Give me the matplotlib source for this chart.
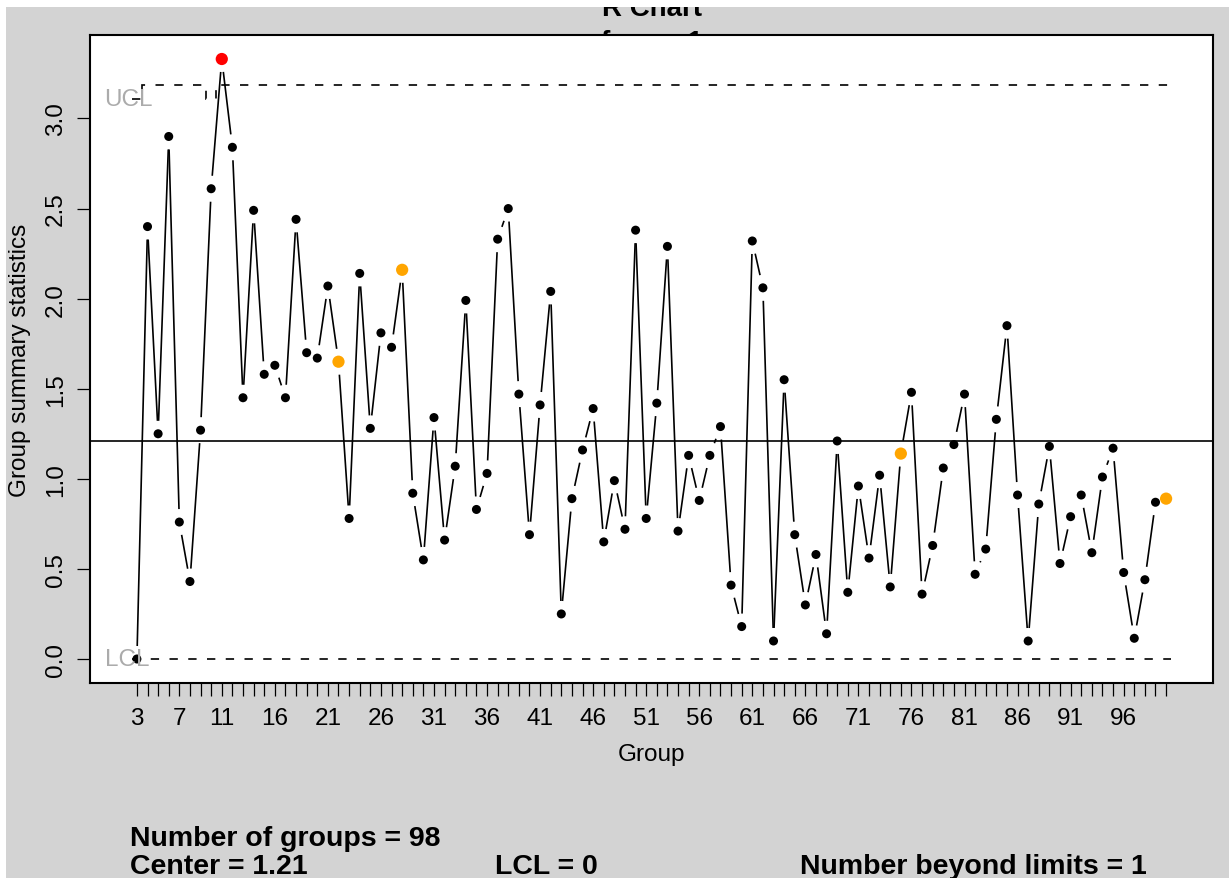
import matplotlib
matplotlib.use('Agg')
import matplotlib.pyplot as plt
import numpy as np
from matplotlib.collections import LineCollection
from matplotlib.patches import Rectangle

plt.rcParams['font.family'] = ['Liberation Sans', 'DejaVu Sans']
plt.rcParams['lines.scale_dashes'] = False

# ---------------- data ----------------
groups = list(range(3, 101))
r_values = [
    0.00, 2.40, 1.25, 2.90, 0.76, 0.43, 1.27, 2.61, 3.33, 2.84,   # 3-12
    1.45, 2.49, 1.58, 1.63, 1.45, 2.44, 1.70, 1.67, 2.07, 1.65,   # 13-22
    0.78, 2.14, 1.28, 1.81, 1.73, 2.16, 0.92, 0.55, 1.34, 0.66,   # 23-32
    1.07, 1.99, 0.83, 1.03, 2.33, 2.50, 1.47, 0.69, 1.41, 2.04,   # 33-42
    0.25, 0.89, 1.16, 1.39, 0.65, 0.99, 0.72, 2.38, 0.78, 1.42,   # 43-52
    2.29, 0.71, 1.13, 0.88, 1.13, 1.29, 0.41, 0.18, 2.32, 2.06,   # 53-62
    0.10, 1.55, 0.69, 0.30, 0.58, 0.14, 1.21, 0.37, 0.96, 0.56,   # 63-72
    1.02, 0.40, 1.14, 1.48, 0.36, 0.63, 1.06, 1.19, 1.47, 0.47,   # 73-82
    0.61, 1.33, 1.85, 0.91, 0.10, 0.86, 1.18, 0.53, 0.79, 0.91,   # 83-92
    0.59, 1.01, 1.17, 0.48, 0.115, 0.44, 0.87, 0.89,              # 93-100
]
assert len(r_values) == len(groups)
center_value = 1.21
ucl_values = [3.11] + [3.185] * 6 + [3.11] + [3.185] * 90
lcl_values = [0.0] * 98
beyond_groups = [11]
run_groups = [22, 28, 75, 100]
shown_xlabels = [3, 7, 11, 16, 21, 26, 31, 36, 41, 46, 51, 56, 61, 66, 71,
                 76, 81, 86, 91, 96]
y_ticks = [0.0, 0.5, 1.0, 1.5, 2.0, 2.5, 3.0]

title_lines = ["R Chart", "for res1"]
stats_texts = ["Number of groups = 98", "Center = 1.21", "LCL = 0",
               "Number beyond limits = 1"]

# ---------------- figure ----------------
W, H = 1229, 879
fig = plt.figure(figsize=(W / 100, H / 100), dpi=100, facecolor='#D3D3D3')
ax = fig.add_axes([90 / W, (H - 684) / H, (1213 - 90) / W, (684 - 36) / H])
ax.set_facecolor('white')

x = np.array(groups, dtype=float)
y = np.array(r_values, dtype=float)
x0, x1 = x[0] - 0.5, x[-1] + 0.5
xpad = 0.04 * (x1 - x0)
ax.set_xlim(x0 - xpad, x1 + xpad)
lo = min(0.0, y.min())
hi = max(y.max(), max(ucl_values))
ypad = 0.04 * (hi - lo)
ax.set_ylim(lo - ypad, hi + ypad)

lw = 1.2
ax.axhline(center_value, color='black', lw=lw, zorder=2)
edges = np.append(x - 0.5, x[-1] + 0.5)
dash = (0, (6.0, 7.5))
ax.stairs(ucl_values, edges, baseline=None, color='black', lw=lw,
          linestyle=dash, zorder=2)
ax.stairs(lcl_values, edges, baseline=None, color='black', lw=lw,
          linestyle=dash, zorder=2)

# lines with gaps around the points (like R type="b")
gap = 13.0
pts = ax.transData.transform(np.column_stack([x, y]))
segs = []
for p0, p1 in zip(pts[:-1], pts[1:]):
    d = p1 - p0
    L = np.hypot(*d)
    if L > 2 * gap:
        u = d / L
        a = p0 + u * gap
        b = p1 - u * gap
        segs.append(ax.transData.inverted().transform(np.array([a, b])))
ax.add_collection(LineCollection(segs, colors='black', linewidths=lw, zorder=3))

colors = []
sizes = []
for g in groups:
    if g in beyond_groups:
        colors.append('#FF0000'); sizes.append(8.8 ** 2)
    elif g in run_groups:
        colors.append('#FFA500'); sizes.append(8.8 ** 2)
    else:
        colors.append('black'); sizes.append(6.5 ** 2)
ax.scatter(x, y, c=colors, s=sizes, linewidths=0, zorder=4)

lab_fs = 17.5
gray = '#ABABAB'
ax.annotate('UCL', xy=(ax.get_xlim()[0], ucl_values[0]), xytext=(10.5, 0),
            textcoords='offset points', ha='left', va='center',
            color=gray, fontsize=lab_fs, zorder=5)
ax.annotate('LCL', xy=(ax.get_xlim()[0], lcl_values[0]), xytext=(10.5, 0),
            textcoords='offset points', ha='left', va='center',
            color=gray, fontsize=lab_fs, zorder=5)

ax.set_xticks(groups)
ax.set_xticklabels([str(g) if g in shown_xlabels else '' for g in groups])
ax.set_yticks(y_ticks)
ax.set_yticklabels([f'{v:.1f}' for v in y_ticks], rotation=90, va='center')
ax.tick_params(axis='both', length=9.5, width=0.9, labelsize=lab_fs,
               direction='out', color='black')
ax.tick_params(axis='x', pad=8)
ax.tick_params(axis='y', pad=7)
for s in ax.spines.values():
    s.set_linewidth(1.5)

ax.set_xlabel('Group', fontsize=lab_fs)
ax.xaxis.set_label_coords(0.5, (684 - 755) / 648)
ax.xaxis.label.set_va('center')
ax.set_ylabel('Group summary statistics', fontsize=lab_fs)
ax.yaxis.set_label_coords((20 - 90) / 1123, 0.5)
ax.yaxis.label.set_va('center')
ax.yaxis.label.set_ha('center')

# title (partly hidden behind the plot region, as in the original)
fig.text(651.5 / W, 1 - 16 / H, title_lines[0], ha='center', va='baseline',
         fontsize=20, fontweight='bold', zorder=-1)
fig.text(651.5 / W, 1 - 50 / H, title_lines[1], ha='center', va='baseline',
         fontsize=20, fontweight='bold', zorder=-1)

# statistics below
fs = 20.5
fig.text(130 / W, 1 - 846 / H, stats_texts[0], ha='left', va='baseline',
         fontsize=fs, fontweight='bold')
fig.text(130 / W, 1 - 874 / H, stats_texts[1], ha='left', va='baseline',
         fontsize=fs, fontweight='bold')
fig.text(495 / W, 1 - 874 / H, stats_texts[2], ha='left', va='baseline',
         fontsize=fs, fontweight='bold')
fig.text(800 / W, 1 - 874 / H, stats_texts[3], ha='left', va='baseline',
         fontsize=fs, fontweight='bold')

# thin white borders (top and left) of the original image
fig.add_artist(Rectangle((0, 1 - 8 / H), 1, 8 / H, transform=fig.transFigure,
                         facecolor='white', edgecolor='none', zorder=10))
fig.add_artist(Rectangle((0, 0), 6 / W, 1, transform=fig.transFigure,
                         facecolor='white', edgecolor='none', zorder=10))

fig.savefig('out.png', dpi=100, facecolor=fig.get_facecolor())
